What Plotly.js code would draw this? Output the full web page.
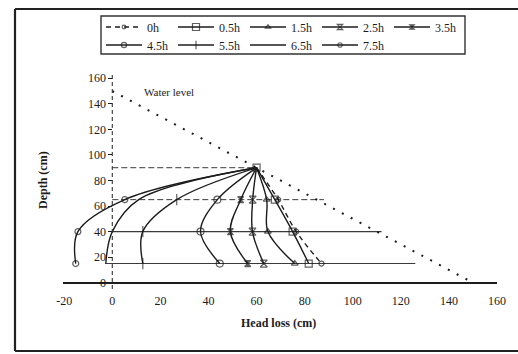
<!DOCTYPE html>
<html><head><meta charset="utf-8">
<script src="https://cdn.plot.ly/plotly-3.0.1.min.js"></script>
<style>html,body{margin:0;padding:0;background:#fff}</style>
</head><body><div id="chart" style="width:518px;height:354px"></div>
<script>
// ---- data ----
const seriesNames = ['0h', '0.5h', '1.5h', '2.5h', '3.5h', '4.5h', '5.5h', '6.5h', '7.5h'];
const depths = [90, 65, 40, 15];
const headLoss0h  = [60, 69, 76.5, 87];
const headLoss05h = [60, 67.6, 75, 81.7];
const headLoss15h = [60, 64.2, 64.7, 75.9];
const headLoss25h = [60, 58.4, 58.3, 63];
const headLoss35h = [60, 53.4, 49.1, 56.3];
const headLoss45h = [60, 43.7, 36.7, 44.7];
const headLoss55h = [60, 26.8, 12.7, 12.7];
const headLoss65h = [60, 11, 0, -2.7];
const headLoss75h = [60, 5.2, -14.3, -15.2];
const waterLevelX = [0, 150];
const waterLevelY = [150, 0];
const levelDepths = [90, 65, 40, 15];
const levelFrom = [0, 0, 0, -3];
const levelTo = [60, 88, 112, 126];
const xTicks = [-20, 0, 20, 40, 60, 80, 100, 120, 140, 160];
const yTicks = [0, 20, 40, 60, 80, 100, 120, 140, 160];

// ---- geometry ----
const W = 518, H = 354;
const M = {l: 63, r: 21, t: 71, b: 62};
const pw = W - M.l - M.r, ph = H - M.t - M.b;
const px2x = p => (p - M.l) / pw;
const py2y = p => (H - M.b - p) / ph;
const xRange = [-20.5, 160];
const yRange = [-7.28, 165.7];

const serif = 'Liberation Serif, Times New Roman, serif';
const ink = '#1c1c1c';

const allSeries = [headLoss0h, headLoss05h, headLoss15h, headLoss25h, headLoss35h,
                   headLoss45h, headLoss55h, headLoss65h, headLoss75h];
const styles = [
  {sym: 'circle-open', size: 5, dash: '5px,4px'},
  {sym: 'square-open', size: 7, dash: 'solid', top: true},
  {sym: 'triangle-up-open', size: 6, dash: 'solid'},
  {sym: 'hourglass-open', size: 7, dash: 'solid'},
  {sym: 'hourglass', size: 6, dash: 'solid'},
  {sym: 'circle-open', size: 7, dash: 'solid'},
  {sym: 'line-ns-open', size: 8, dash: 'solid'},
  {sym: 'circle', size: 0, dash: 'solid'},
  {sym: 'circle-open', size: 6, dash: 'solid'}
];

const traces = [];
// observation level lines
levelDepths.forEach((d, i) => {
  traces.push({
    x: [levelFrom[i], levelTo[i]], y: [d, d], mode: 'lines', showlegend: false,
    line: {color: '#3a3a3a', width: d >= 65 ? 1 : 1.1, dash: d >= 65 ? '6px,3px' : 'solid'},
    hoverinfo: 'skip'
  });
});
// water level
traces.push({
  x: waterLevelX, y: waterLevelY, mode: 'lines', showlegend: false,
  line: {color: ink, width: 2, dash: '2px,8px'}, hoverinfo: 'skip'
});
// head loss profiles
allSeries.forEach((vals, i) => {
  const st = styles[i];
  traces.push({
    x: vals, y: depths, name: seriesNames[i],
    mode: st.size ? 'lines+markers' : 'lines',
    legend: i < 5 ? 'legend' : 'legend2',
    line: {color: ink, width: 1.4, shape: 'spline', smoothing: 1, dash: st.dash},
    marker: {symbol: st.sym, color: ink, line: {color: ink, width: 1.2},
             size: depths.map(d => (d === 90 && !st.top) ? 0 : st.size)}
  });
});

const legendCommon = {
  orientation: 'h', bgcolor: 'rgba(0,0,0,0)', borderwidth: 0,
  font: {family: serif, size: 12, color: ink},
  itemwidth: 36, entrywidth: 21, xanchor: 'left', yanchor: 'middle',
  xref: 'paper', yref: 'paper', x: px2x(101), traceorder: 'normal'
};

const layout = {
  width: W, height: H, margin: M,
  paper_bgcolor: '#fff', plot_bgcolor: '#fff',
  showlegend: true,
  legend: Object.assign({}, legendCommon, {y: py2y(27)}),
  legend2: Object.assign({}, legendCommon, {y: py2y(45)}),
  xaxis: {
    range: xRange, tickvals: xTicks, ticktext: xTicks.map(String),
    showgrid: false, zeroline: false, showline: false, ticks: '',
    tickfont: {family: serif, size: 12, color: ink}
  },
  yaxis: {
    range: yRange, tickvals: yTicks, anchor: 'free',
    position: (0 - xRange[0]) / (xRange[1] - xRange[0]),
    showgrid: false, showline: false, ticks: 'outside', ticklen: 4, tickcolor: ink,
    zeroline: true, zerolinecolor: ink, zerolinewidth: 1.6,
    tickfont: {family: serif, size: 12, color: ink}
  },
  shapes: [
    // dashed vertical axis at x = 0
    {type: 'line', xref: 'x', yref: 'y', x0: 0, x1: 0, y0: -5, y1: 164,
     line: {color: '#333', width: 1.1, dash: '4px,3px'}},
    // legend box
    {type: 'rect', xref: 'paper', yref: 'paper', x0: px2x(101), x1: px2x(465),
     y0: py2y(54), y1: py2y(16), line: {color: '#333', width: 1.4}},
    // outer frame
    {type: 'line', xref: 'paper', yref: 'paper', x0: px2x(15), x1: px2x(15),
     y0: py2y(9), y1: py2y(351), line: {color: '#222', width: 2.2}},
    {type: 'line', xref: 'paper', yref: 'paper', x0: px2x(15), x1: px2x(520),
     y0: py2y(9), y1: py2y(9), line: {color: '#222', width: 2}},
    {type: 'line', xref: 'paper', yref: 'paper', x0: px2x(15), x1: px2x(520),
     y0: py2y(351), y1: py2y(351), line: {color: '#222', width: 2}}
  ],
  annotations: [
    {text: 'Water level', xref: 'x', yref: 'y', x: 12.3, y: 149.5, xanchor: 'left',
     yanchor: 'middle', showarrow: false, font: {family: serif, size: 11, color: ink}},
    {text: '<b>Head loss (cm)</b>', xref: 'paper', yref: 'paper', x: px2x(278), y: py2y(323),
     xanchor: 'center', yanchor: 'middle', showarrow: false,
     font: {family: serif, size: 12, color: ink}},
    {text: '<b>Depth (cm)</b>', xref: 'paper', yref: 'paper', x: px2x(43), y: py2y(180),
     xanchor: 'center', yanchor: 'middle', textangle: -90, showarrow: false,
     font: {family: serif, size: 12, color: ink}}
  ]
};

Plotly.newPlot('chart', traces, layout, {staticPlot: true, displayModeBar: false});
</script></body></html>
